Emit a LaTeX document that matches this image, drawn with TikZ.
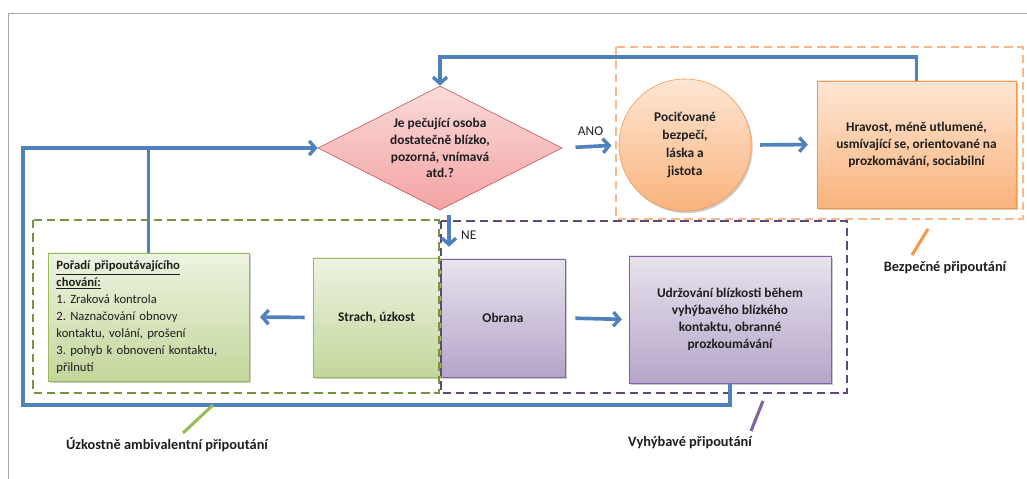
\documentclass[tikz,border=0pt]{standalone}
\usepackage{fontspec}
\setmainfont{Carlito}
\usepackage{tikz}
\usetikzlibrary{arrows.meta,calc,shadows,shapes.geometric}
\definecolor{linkblue}{HTML}{4F81BD}
\definecolor{textgray}{HTML}{1E1E1E}
\definecolor{redline}{HTML}{C0504D}
\definecolor{redtop}{HTML}{FADADA}
\definecolor{redbottom}{HTML}{F4A3A3}
\definecolor{orangeline}{HTML}{F79646}
\definecolor{orangetop}{HTML}{FDE6D4}
\definecolor{orangebottom}{HTML}{FAB37C}
\definecolor{orangedash}{HTML}{FAB88A}
\definecolor{greenline}{HTML}{9BBB59}
\definecolor{greentop}{HTML}{EDF3E1}
\definecolor{greenbottom}{HTML}{C3D69B}
\definecolor{greendash}{HTML}{77933C}
\definecolor{purpleline}{HTML}{8064A2}
\definecolor{purpletop}{HTML}{E8E3EE}
\definecolor{purplebottom}{HTML}{B5A5C9}
\definecolor{purpledash}{HTML}{5F497A}
\newcommand\boxfont{\fontsize{9.5}{12}\selectfont}
\newcommand\capfont{\fontsize{10.2}{12}\selectfont}
\frenchspacing
\tikzset{decision/.style={
    % The shape:
    diamond, aspect=2,
    % The size:
    minimum width=6.1cm, minimum height=3.1cm, inner sep=0pt,
    % The border:
    draw=redline,
    % The filling:
    top color=redtop, bottom color=redbottom,
    % Font
    font=\boxfont\bfseries, text=textgray, align=center
    },
    softshadow/.style={
    drop shadow={shadow xshift=1.2pt, shadow yshift=-1.5pt, fill=black!45, opacity=.45}
    },
    securebox/.style={
    rectangle, draw=orangeline, softshadow,
    top color=orangetop, bottom color=orangebottom,
    font=\boxfont\bfseries, text=textgray, align=center
    },
    anxiousbox/.style={
    rectangle, draw=greenline, softshadow,
    top color=greentop, bottom color=greenbottom,
    font=\boxfont\bfseries, text=textgray, align=center
    },
    avoidbox/.style={
    rectangle, draw=purpleline, softshadow,
    top color=purpletop, bottom color=purplebottom,
    font=\boxfont\bfseries, text=textgray, align=center
    },
    group/.style={
    line width=2pt, dash pattern=on 6pt off 3.5pt
    },
    link/.style={
    draw=linkblue, line width=2.6pt
    },
    arrowlink/.style={
    link, -{Straight Barb[length=4.5pt,width=10pt,line width=2.4pt]}
    },
    caption/.style={
    font=\capfont\bfseries, text=textgray
    },
    pointer/.style={
    line width=2.2pt
    },
}

\begin{document}
\begin{tikzpicture}[x=0.025cm, y=-0.025cm]
    \useasboundingbox (0,0) rectangle (1027,479);
    % frame of the figure
    \draw[gray!70, line width=0.7pt] (1027,13) -- (8,13) -- (8,479);

    % the question and the secure path
    \node (question) [decision] at (440,148) {Je pečující osoba\\dostatečně blízko,\\pozorná, vnímavá\\atd.?};
    \node (felt)     [securebox,circle,minimum size=3.3cm,inner sep=0pt] at (685,145) {Pociťované\\[1pt]bezpečí,\\[1pt]láska a\\[1pt]jistota};
    \node (calm)     [securebox,minimum width=4.975cm,minimum height=3.175cm] at (916.5,144.5) {Hravost, méně utlumené,\\usmívající se, orientované na\\prozkomávání, sociabilní};

    % the anxious path
    \node (sequence) [anxiousbox,font=\fontsize{9}{12}\selectfont,align=left,text width=4.6cm,inner xsep=0.21cm,minimum height=3.2cm] at (148.5,317) {\underline{\textbf{Pořadí připoutávajícího}}\\\underline{\textbf{chování:}}\\1. Zraková kontrola\\2. Naznačování obnovy\\kontaktu, volání, prošení\\3. pohyb k obnovení kontaktu,\\přilnutí};
    \node (fear)     [anxiousbox,minimum width=3.175cm,minimum height=2.975cm] at (376.5,317.5) {Strach, úzkost};

    % the avoidant path
    \node (defence)  [avoidbox,minimum width=3.1cm,minimum height=2.95cm] at (503,318) {Obrana};
    \node (avoid)    [avoidbox,minimum width=5.05cm,minimum height=3.175cm] at (730,319.5) {Udržování blízkosti během\\vyhýbavého blízkého\\kontaktu, obranné\\prozkoumávání};

    % dashed groups
    \draw[group, draw=greendash]  (33,220) rectangle (439,393);
    \draw[group, draw=purpledash] (441,221) rectangle (847,393);
    \draw[group, draw=orangedash] (616,47) rectangle (1023,219);

    % connectors
    \draw[arrowlink] (calm.north) |- ++(0,-24) -| (question.north);
    \draw[arrowlink,shorten <=0.33cm,shorten >=0.18cm] (question.east) -- node[above,font=\boxfont,text=textgray,yshift=3pt] {ANO} (felt.west);
    \draw[arrowlink,shorten <=0.22cm,shorten >=0.22cm] (felt.east) -- (calm.west);
    \draw[arrowlink,shorten >=0.3cm] ([xshift=0.225cm,yshift=-0.12cm]question.south) -- node[right,font=\boxfont,text=textgray,pos=0.45,xshift=4pt] {NE} ([xshift=0.225cm]question.south |- defence.north);
    \draw[arrowlink,shorten <=0.2cm,shorten >=0.27cm] (fear.west) -- (sequence.east);
    \draw[arrowlink,shorten <=0.25cm,shorten >=0.17cm] (defence.east) -- (avoid.west);
    \coordinate (loopcorner) at (23,405);
    \draw[arrowlink] (avoid.south) |- (loopcorner) |- (question.west);
    \draw[link] (sequence.north) -- (sequence.north |- question.west);

    % captions of the groups
    \node (anxious) [caption] at (167,445) {Úzkostně ambivalentní připoutání};
    \node (avoidant) [caption] at (690,443) {Vyhýbavé připoutání};
    \node (secure) [caption] at (945,268) {Bezpečné připoutání};
    \coordinate (anxious1) at (213,405);
    \coordinate (anxious2) at (183,433);
    \coordinate (avoidant1) at (763,401);
    \coordinate (avoidant2) at (751,431);
    \coordinate (secure1) at (928,229);
    \coordinate (secure2) at (912,255);
    \draw[pointer, draw=greenline]  (anxious1) -- (anxious2);
    \draw[pointer, draw=purpleline] (avoidant1) -- (avoidant2);
    \draw[pointer, draw=orangeline] (secure1) -- (secure2);
\end{tikzpicture}
\end{document}
